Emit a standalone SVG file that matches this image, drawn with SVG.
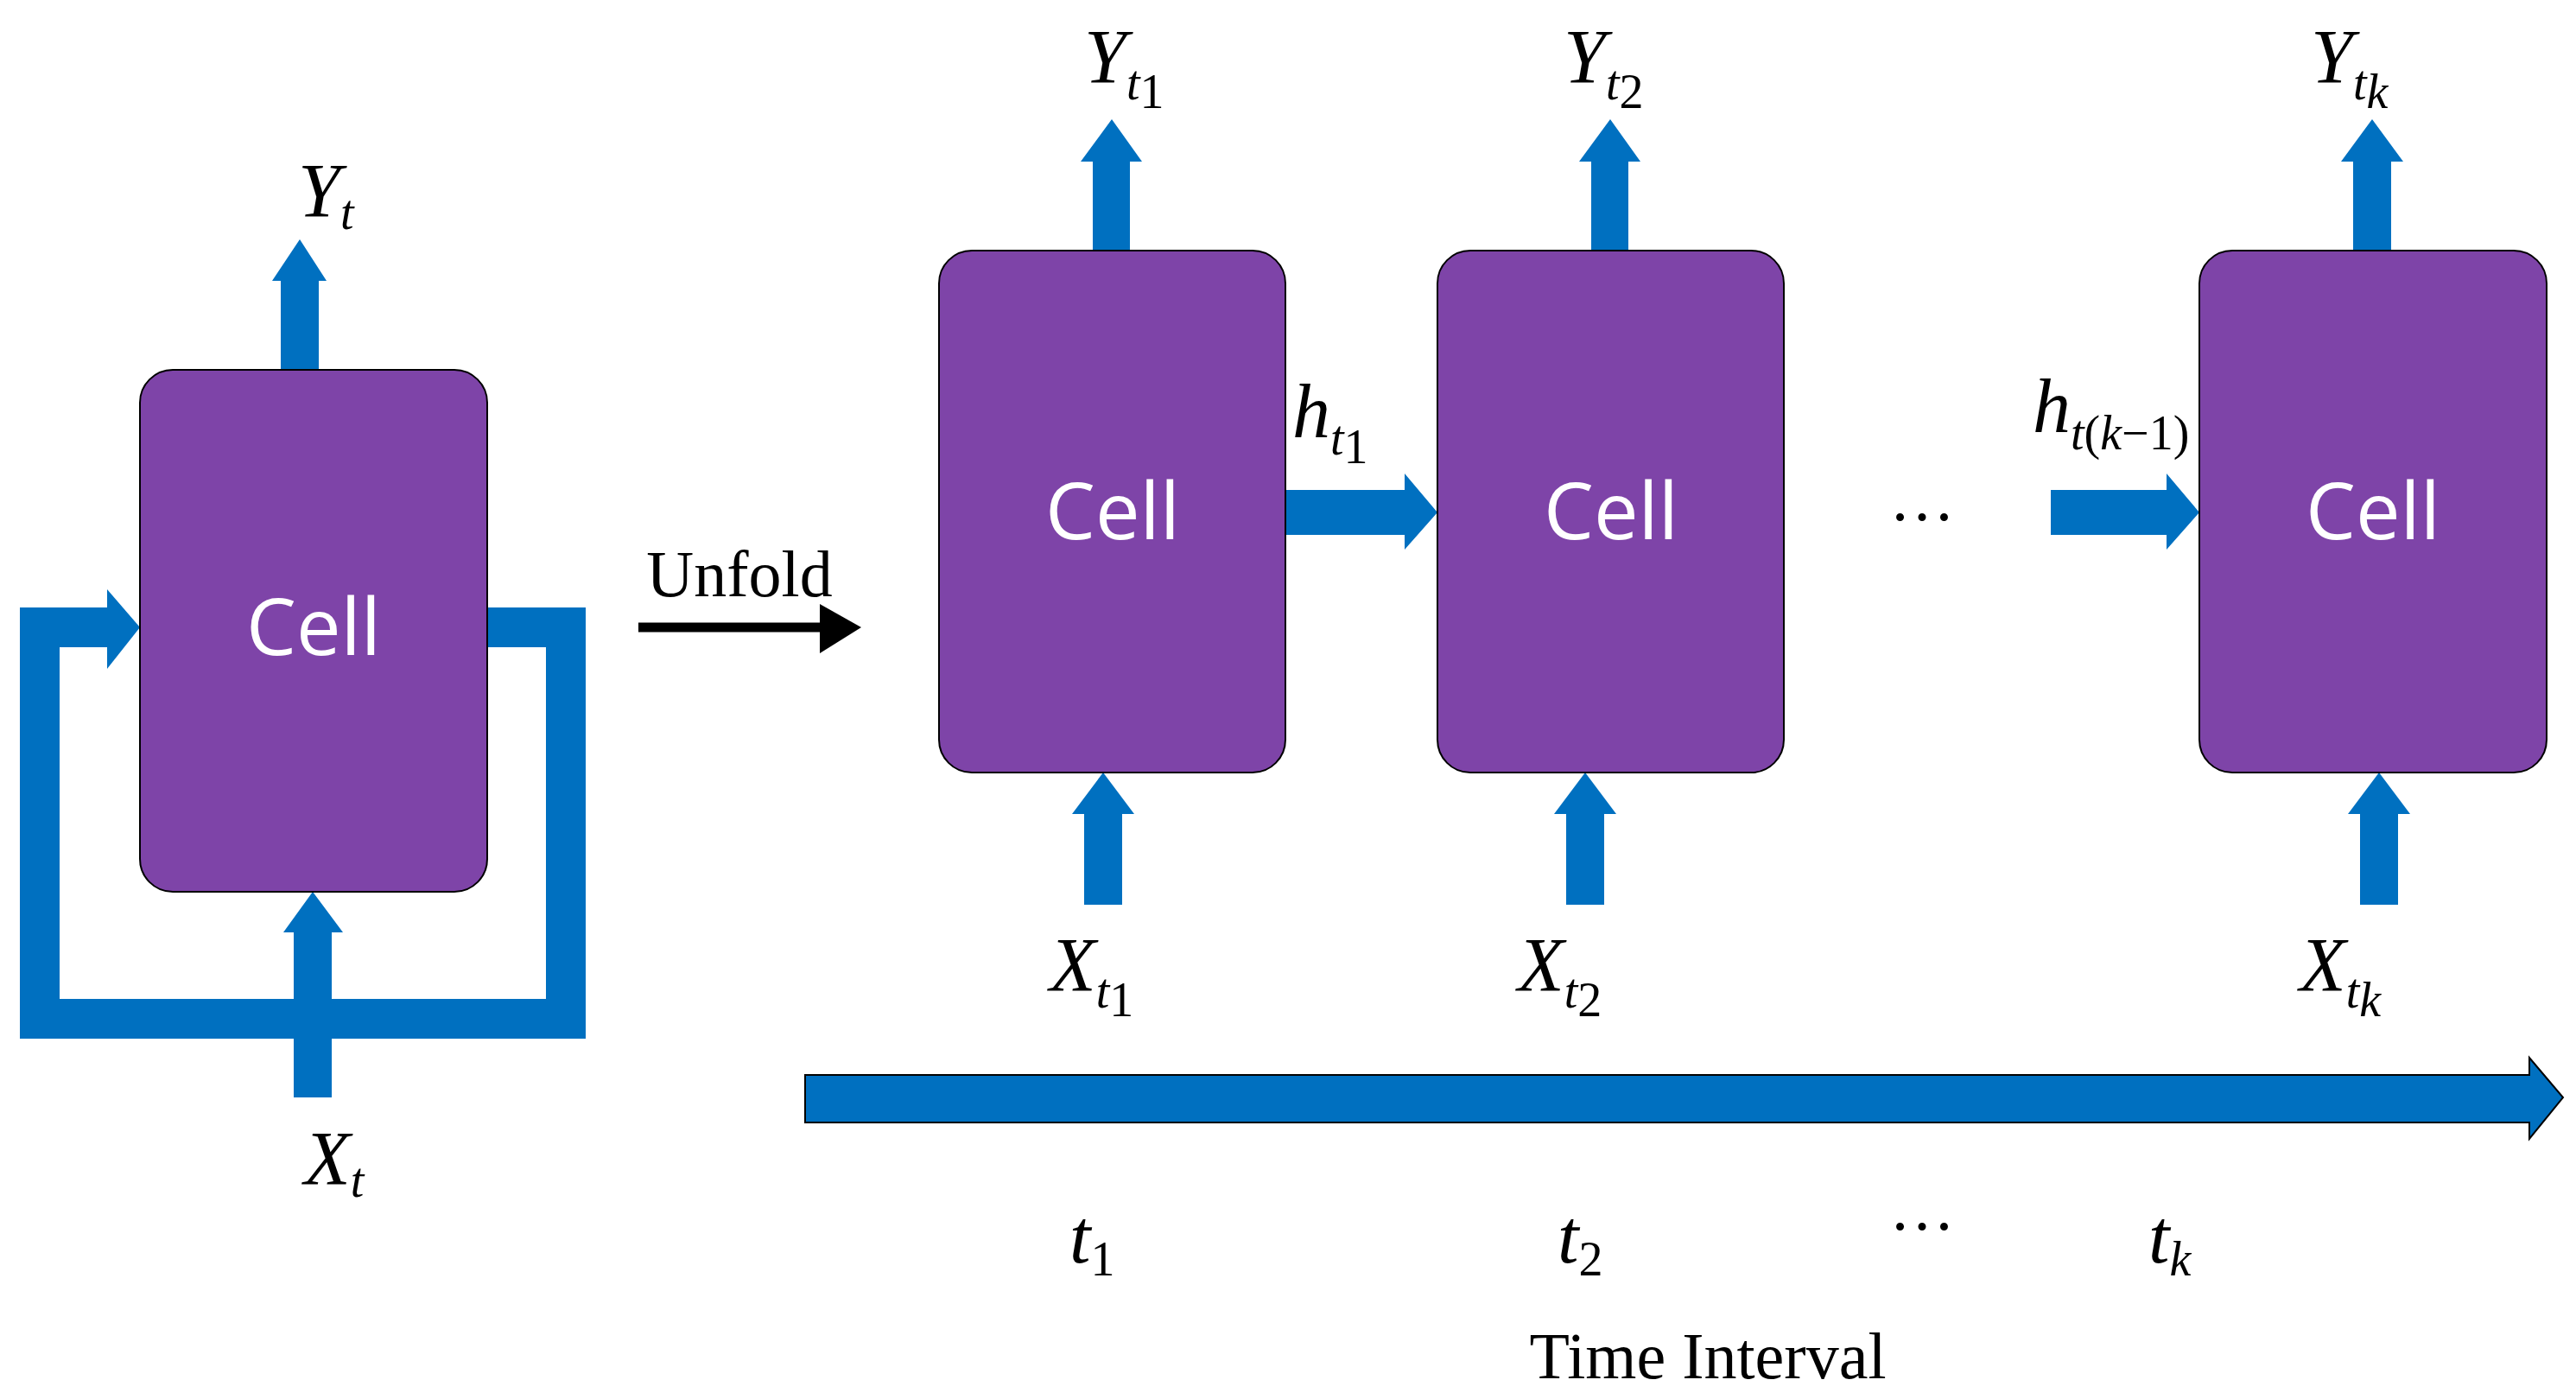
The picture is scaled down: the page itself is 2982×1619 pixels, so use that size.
<svg xmlns="http://www.w3.org/2000/svg" width="2982" height="1619" viewBox="0 0 2982 1619">
<style>
.cell{fill:#7E44A8;stroke:#000;stroke-width:2}
.ct{font-family:"Open Sans","Liberation Sans",sans-serif;font-size:92px;fill:#fff;text-anchor:middle}
.b{fill:#0070C0}
.m{font-family:"Liberation Serif",serif;font-style:italic;font-size:88px;fill:#000}
.s{font-size:56px}
.r{font-family:"Liberation Serif",serif;font-size:76px;fill:#000;text-anchor:middle}
</style>
<rect width="2982" height="1619" fill="#fff"/>
<g id="connectors">
<polyline points="564,726 655,726 655,1179 46,1179 46,726 124,726" fill="none" stroke="#0070C0" stroke-width="46"/>
<polygon class="b" points="124,682 162,726 124,774"/>
<polygon class="b" points="325,428 369,428 369,325 378,325 347,277 315,325 325,325"/>
<polygon class="b" points="340,1270 384,1270 384,1079 397,1079 362,1032 328,1079 340,1079"/>
<line x1="739" y1="726" x2="952" y2="726" stroke="#000" stroke-width="11"/>
<polygon points="949,699 997,726 949,756" fill="#000"/>
<polygon class="b" points="1265,290 1308,290 1308,187 1322,187 1287,138 1251,187 1265,187"/>
<polygon class="b" points="1842,290 1885,290 1885,187 1899,187 1864,138 1828,187 1842,187"/>
<polygon class="b" points="2724,290 2768,290 2768,187 2782,187 2746,138 2710,187 2724,187"/>
<polygon class="b" points="1255,1047 1299,1047 1299,942 1313,942 1277,894 1241,942 1255,942"/>
<polygon class="b" points="1813,1047 1857,1047 1857,942 1871,942 1835,894 1799,942 1813,942"/>
<polygon class="b" points="2732,1047 2776,1047 2776,942 2790,942 2754,894 2718,942 2732,942"/>
<polygon class="b" points="1488,567 1626,567 1626,548 1664,593 1626,636 1626,619 1488,619"/>
<polygon class="b" points="2374,567 2508,567 2508,548 2546,593 2508,636 2508,619 2374,619"/>
<polygon class="b" stroke="#000" stroke-width="2" points="932,1244 2928,1244 2928,1224 2967,1270 2928,1318 2928,1299 932,1299"/>
</g>
<g id="cell0"><rect class="cell" x="162" y="428" width="402" height="604" rx="38"/><text class="ct" x="363" y="758">Cell</text></g>
<g id="cell1"><rect class="cell" x="1087" y="290" width="401" height="604" rx="38"/><text class="ct" x="1288" y="624">Cell</text></g>
<g id="cell2"><rect class="cell" x="1664" y="290" width="401" height="604" rx="38"/><text class="ct" x="1865" y="624">Cell</text></g>
<g id="cell3"><rect class="cell" x="2546" y="290" width="402" height="604" rx="38"/><text class="ct" x="2747" y="624">Cell</text></g>
<g id="labels">
<text class="m" x="345" y="250">Y<tspan class="s" dy="15">t</tspan></text>
<text class="m" x="352" y="1370">X<tspan class="s" dy="15">t</tspan></text>
<text class="r" x="856" y="690">Unfold</text>
<text class="m" x="1255" y="95">Y<tspan class="s" dy="20">t</tspan><tspan class="s" dy="10" font-size="44" font-style="normal">1</tspan></text>
<text class="m" x="1810" y="95">Y<tspan class="s" dy="20">t</tspan><tspan class="s" dy="10" font-size="44" font-style="normal">2</tspan></text>
<text class="m" x="2675" y="95">Y<tspan class="s" dy="20">t</tspan><tspan class="s" dy="10" font-size="44">k</tspan></text>
<text class="m" x="1215" y="1146">X<tspan class="s" dy="20">t</tspan><tspan class="s" dy="10" font-size="44" font-style="normal">1</tspan></text>
<text class="m" x="1757" y="1146">X<tspan class="s" dy="20">t</tspan><tspan class="s" dy="10" font-size="44" font-style="normal">2</tspan></text>
<text class="m" x="2662" y="1146">X<tspan class="s" dy="20">t</tspan><tspan class="s" dy="10" font-size="44">k</tspan></text>
<text class="m" x="1496" y="506">h<tspan class="s" dy="20">t</tspan><tspan class="s" dy="10" font-size="44" font-style="normal">1</tspan></text>
<text class="m" x="2353" y="500">h<tspan class="s" dy="20">t</tspan><tspan class="s" font-size="44" font-style="normal">(</tspan><tspan class="s" font-size="44">k</tspan><tspan class="s" font-size="44" font-style="normal">−1)</tspan></text>
<text class="r" x="2225" y="602" font-size="56">…</text>
<text class="m" x="1238" y="1461" font-size="100">t<tspan class="s" dy="15" font-style="normal">1</tspan></text>
<text class="m" x="1803" y="1461" font-size="100">t<tspan class="s" dy="15" font-style="normal">2</tspan></text>
<text class="r" x="2225" y="1423" font-size="56">…</text>
<text class="m" x="2487" y="1461" font-size="100">t<tspan class="s" dy="15">k</tspan></text>
<text class="r" x="1977" y="1595">Time Interval</text>
</g>
</svg>
